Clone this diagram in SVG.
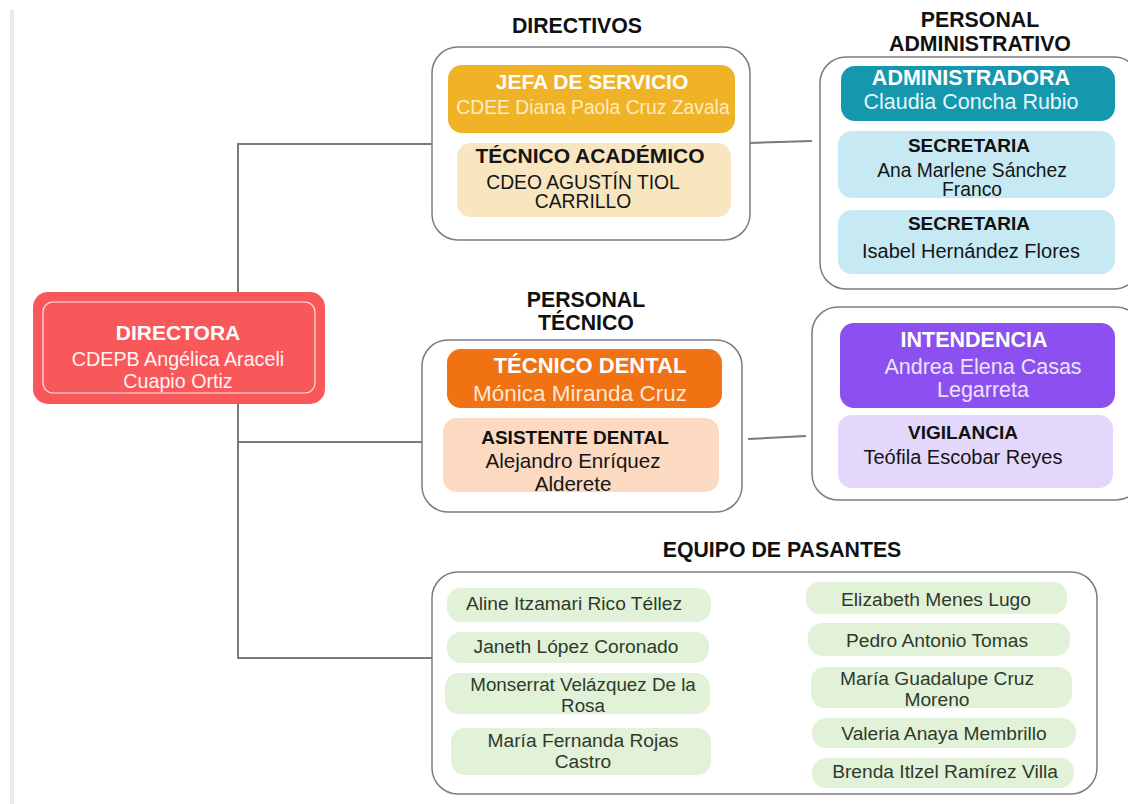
<svg xmlns="http://www.w3.org/2000/svg" width="1128" height="804" viewBox="0 0 1128 804">
<style>
text{font-family:"Liberation Sans",Arial,sans-serif;text-anchor:middle}
.h{font-size:21.3px;font-weight:bold;fill:#111}
.t{font-size:21px;font-weight:bold}
.ts{font-size:19px;font-weight:bold;fill:#111}
.n{font-size:19.3px}
.nb{font-size:21.5px}
.p{font-size:19.2px;fill:#2e3a2c}
.grp{fill:#fff;stroke:#7d7d7d;stroke-width:1.5}
.pill{fill:#e2f2d8}
.w{fill:#fff}
.wf{fill:#fdf3f3}
.k{fill:#151515}
.con{stroke:#7a7a7a;stroke-width:2;fill:none}
</style>
<rect x="0" y="0" width="1128" height="804" fill="#fff"/>
<rect x="10" y="10" width="4" height="794" fill="#ebebed"/>
<g id="connectors">
<polyline class="con" points="432,144 238,144 238,658 432,658"/>
<line class="con" x1="238" y1="442" x2="422" y2="442"/>
<line class="con" x1="750" y1="143" x2="812" y2="141"/>
<line class="con" x1="748" y1="439" x2="806" y2="436"/>
</g>
<g id="directora">
<rect x="33" y="292" width="292" height="112" rx="15" fill="#f8585a"/>
<rect x="43" y="302" width="272" height="91" rx="10" fill="none" stroke="#fde3e3" stroke-width="1.2"/>
<text class="t w" x="178" y="340">DIRECTORA</text>
<text class="n wf" x="178" y="366" style="font-size:19.7px">CDEPB Angélica Araceli</text>
<text class="n wf" x="178" y="388" style="font-size:19.7px">Cuapio Ortiz</text>
</g>
<g id="directivos">
<text class="h" x="577" y="33">DIRECTIVOS</text>
<rect class="grp" x="432" y="47" width="318" height="193" rx="26"/>
<rect x="448" y="65" width="287" height="68" rx="14" fill="#f0b327"/>
<text class="t w" x="592" y="89">JEFA DE SERVICIO</text>
<text class="n" x="593" y="114" fill="#fdebc4">CDEE Diana Paola Cruz Zavala</text>
<rect x="457" y="143" width="274" height="74" rx="14" fill="#f8e6c0"/>
<text class="t k" x="590" y="163">TÉCNICO ACADÉMICO</text>
<text class="n k" x="583" y="189">CDEO AGUSTÍN TIOL</text>
<text class="n k" x="583" y="208">CARRILLO</text>
</g>
<g id="administrativo">
<text class="h" x="980" y="27">PERSONAL</text>
<text class="h" x="980" y="51">ADMINISTRATIVO</text>
<rect class="grp" x="820" y="57" width="320" height="232" rx="26"/>
<rect x="841" y="66" width="274" height="55" rx="14" fill="#1597ae"/>
<text class="t w" x="971" y="85" style="font-size:21.5px">ADMINISTRADORA</text>
<text class="nb" x="971" y="109" fill="#e6f6f9">Claudia Concha Rubio</text>
<rect x="838" y="131" width="277" height="67" rx="14" fill="#c6e9f4"/>
<text class="ts" x="969" y="152">SECRETARIA</text>
<text class="n k" x="972" y="177">Ana Marlene Sánchez</text>
<text class="n k" x="972" y="196">Franco</text>
<rect x="838" y="210" width="277" height="64" rx="14" fill="#c6e9f4"/>
<text class="ts" x="969" y="230">SECRETARIA</text>
<text class="n k" x="971" y="258" style="font-size:20px">Isabel Hernández Flores</text>
</g>
<g id="tecnico">
<text class="h" x="586" y="307">PERSONAL</text>
<text class="h" x="586" y="330">TÉCNICO</text>
<rect class="grp" x="422" y="340" width="320" height="172" rx="26"/>
<rect x="447" y="349" width="275" height="59" rx="14" fill="#f07212"/>
<text class="t w" x="590" y="373" style="font-size:22px">TÉCNICO DENTAL</text>
<text class="nb" x="580" y="401" fill="#fde6d4" style="font-size:22.5px">Mónica Miranda Cruz</text>
<rect x="443" y="418" width="276" height="74" rx="14" fill="#fcdac1"/>
<text class="ts" x="575" y="444">ASISTENTE DENTAL</text>
<text class="nb k" x="573" y="468" style="font-size:20.6px">Alejandro Enríquez</text>
<text class="nb k" x="573" y="491" style="font-size:20.6px">Alderete</text>
</g>
<g id="intendencia">
<rect class="grp" x="812" y="307" width="330" height="193" rx="26"/>
<rect x="840" y="323" width="275" height="85" rx="14" fill="#8c50f0"/>
<text class="t w" x="974" y="347" style="font-size:21.5px">INTENDENCIA</text>
<text class="nb" x="983" y="374" fill="#ece2ff" style="font-size:21.5px">Andrea Elena Casas</text>
<text class="nb" x="983" y="397" fill="#ece2ff" style="font-size:21.5px">Legarreta</text>
<rect x="838" y="415" width="275" height="73" rx="14" fill="#e3d8fb"/>
<text class="ts" x="963" y="439">VIGILANCIA</text>
<text class="n k" x="963" y="464" style="font-size:20px">Teófila Escobar Reyes</text>
</g>
<g id="pasantes">
<text class="h" x="782" y="557">EQUIPO DE PASANTES</text>
<rect class="grp" x="432" y="572" width="665" height="222" rx="26"/>
<rect class="pill" x="447" y="588" width="264" height="34" rx="14"/>
<text class="p" x="574" y="610">Aline Itzamari Rico Téllez</text>
<rect class="pill" x="447" y="632" width="262" height="31" rx="14"/>
<text class="p" x="576" y="653">Janeth López Coronado</text>
<rect class="pill" x="445" y="673" width="265" height="41" rx="14"/>
<text class="p" x="583" y="691" style="font-size:18.8px">Monserrat Velázquez De la</text>
<text class="p" x="583" y="712" style="font-size:18.8px">Rosa</text>
<rect class="pill" x="451" y="728" width="260" height="47" rx="14"/>
<text class="p" x="583" y="747">María Fernanda Rojas</text>
<text class="p" x="583" y="768">Castro</text>
<rect class="pill" x="806" y="582" width="261" height="32" rx="14"/>
<text class="p" x="936" y="606">Elizabeth Menes Lugo</text>
<rect class="pill" x="808" y="623" width="262" height="33" rx="14"/>
<text class="p" x="937" y="647">Pedro Antonio Tomas</text>
<rect class="pill" x="811" y="667" width="261" height="41" rx="14"/>
<text class="p" x="937" y="685">María Guadalupe Cruz</text>
<text class="p" x="937" y="706">Moreno</text>
<rect class="pill" x="812" y="718" width="264" height="30" rx="14"/>
<text class="p" x="944" y="740">Valeria Anaya Membrillo</text>
<rect class="pill" x="812" y="758" width="262" height="30" rx="14"/>
<text class="p" x="945" y="778">Brenda Itlzel Ramírez Villa</text>
</g>
</svg>
